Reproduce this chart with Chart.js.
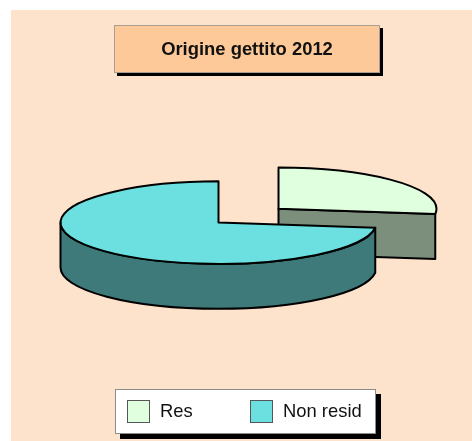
<!DOCTYPE html>
<html>
<head>
<meta charset="utf-8">
<title>Origine gettito 2012</title>
<script src="https://cdn.jsdelivr.net/npm/chart.js@4/dist/chart.umd.min.js"></script>
<style>
html, body { margin: 0; padding: 0; background: #fff; }
body { position: relative; width: 472px; height: 441px; overflow: hidden; font-family: "Liberation Sans", Arial, sans-serif; }
#panel { position: absolute; left: 11px; top: 10px; width: 461px; height: 431px; background: #fee3cc; }
canvas { position: absolute; left: 0; top: 0; }
#titleBox {
    position: absolute; left: 114px; top: 25px; width: 264px; height: 46px;
    background: #fdc999; border: 1px solid #a89e92; box-shadow: 3px 3px 0 #000;
    text-align: center; line-height: 46px; font-weight: bold; font-size: 18.4px; color: #111;
}
#legendBox {
    position: absolute; left: 115px; top: 389px; width: 259px; height: 43px;
    background: #fff; border: 1px solid #8c8c8c; box-shadow: 5px 5px 0 #000;
}
.swatch { position: absolute; top: 10px; width: 21px; height: 21px; border: 1px solid #555; box-sizing: content-box; }
.label { position: absolute; top: 0; line-height: 42px; font-size: 18.4px; color: #111; white-space: nowrap; }
</style>
</head>
<body>
<div id="panel"></div>
<canvas id="pie" width="472" height="441"></canvas>
<div id="titleBox"></div>
<div id="legendBox"></div>
<script>
const chartTitle = 'Origine gettito 2012';
const categories = ['Res', 'Non resid'];
const seriesValues = [27, 73];
const topColors = ['#dfffdf', '#6ce0e0'];
const sideColors = ['#7c8f7c', '#3f7a7a'];
const sliceOffsets = [320, 0];  // chart.js moves a slice by offset / 4

const squash = 0.261;   // how flat the pie looks
const depth = 45;       // height of the pie wall
const pieCenterY = 222.6;

// where a slice ends up on the page after flattening
function arcGeometry(arc) {
    const half = (arc.startAngle + arc.endAngle) / 2;
    const off = (arc.options.offset || 0) / 4;
    return {
        x: arc.x + Math.cos(half) * off,
        y: pieCenterY + Math.sin(half) * off * squash,
        r: arc.outerRadius,
        start: arc.startAngle,
        end: arc.endAngle
    };
}

// chart.js draws a round pie, this plugin flattens it and adds the walls
const pie3d = {
    id: 'pie3d',
    beforeDatasetsDraw(chart) {
        const ctx = chart.ctx;
        const cy = (chart.chartArea.top + chart.chartArea.bottom) / 2;
        const arcs = chart.getDatasetMeta(0).data;

        // walls first, exploded slice at the back
        arcs.forEach((arc, i) => {
            const g = arcGeometry(arc);
            ctx.save();
            ctx.fillStyle = sideColors[i];
            ctx.strokeStyle = '#000';
            ctx.lineWidth = 2;
            ctx.lineJoin = 'round';
            ctx.beginPath();
            if (i === 0) {
                // cut face of the exploded slice
                const endX = g.x + g.r * Math.cos(g.end);
                const endY = g.y + g.r * squash * Math.sin(g.end);
                ctx.moveTo(g.x, g.y);
                ctx.lineTo(endX, endY);
                ctx.lineTo(endX, endY + depth);
                ctx.lineTo(g.x, g.y + depth);
            } else {
                // rim from the end of the slice round the bottom to the far left
                ctx.ellipse(g.x, g.y, g.r, g.r * squash, 0, g.start, Math.PI);
                ctx.lineTo(g.x - g.r, g.y + depth);
                ctx.ellipse(g.x, g.y + depth, g.r, g.r * squash, 0, Math.PI, g.start, true);
            }
            ctx.closePath();
            ctx.fill();
            ctx.stroke();
            ctx.restore();
        });

        ctx.save();
        ctx.translate(0, pieCenterY - cy * squash);
        ctx.scale(1, squash);
    },
    afterDatasetsDraw(chart) {
        const ctx = chart.ctx;
        ctx.restore();

        // outlines in screen space so the line width stays even
        chart.getDatasetMeta(0).data.forEach((arc) => {
            const g = arcGeometry(arc);
            ctx.save();
            ctx.strokeStyle = '#000';
            ctx.lineWidth = 2;
            ctx.lineJoin = 'round';
            ctx.beginPath();
            ctx.moveTo(g.x, g.y);
            ctx.ellipse(g.x, g.y, g.r, g.r * squash, 0, g.start, g.end);
            ctx.closePath();
            ctx.stroke();
            ctx.restore();
        });
    }
};

new Chart(document.getElementById('pie'), {
    type: 'pie',
    data: {
        labels: categories,
        datasets: [{
            data: seriesValues,
            backgroundColor: topColors,
            borderWidth: 0,
            offset: sliceOffsets
        }]
    },
    options: {
        responsive: false,
        animation: false,
        radius: 158,
        layout: { padding: { right: 35 } },
        plugins: {
            legend: { display: false },
            title: { display: false },
            tooltip: { enabled: false }
        }
    },
    plugins: [pie3d]
});

document.getElementById('titleBox').textContent = chartTitle;

// html legend built from the same arrays
const legendBox = document.getElementById('legendBox');
const swatchX = [11, 134];
const labelX = [44, 167];
categories.forEach((name, i) => {
    const swatch = document.createElement('div');
    swatch.className = 'swatch';
    swatch.style.left = swatchX[i] + 'px';
    swatch.style.background = topColors[i];
    legendBox.appendChild(swatch);
    const label = document.createElement('div');
    label.className = 'label';
    label.style.left = labelX[i] + 'px';
    label.textContent = name;
    legendBox.appendChild(label);
});
</script>
</body>
</html>
